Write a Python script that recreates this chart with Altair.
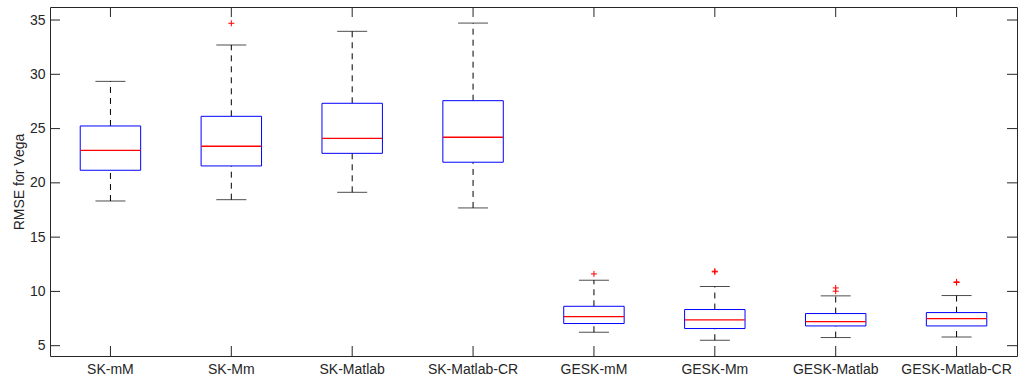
import altair as alt
import pandas as pd

methods = ["SK-mM", "SK-Mm", "SK-Matlab", "SK-Matlab-CR",
           "GESK-mM", "GESK-Mm", "GESK-Matlab", "GESK-Matlab-CR"]
lower_whisker = [18.33, 18.45, 19.13, 17.69, 6.24, 5.50, 5.75, 5.80]
q1 = [21.16, 21.56, 22.72, 21.90, 7.04, 6.58, 6.82, 6.82]
median = [23.00, 23.37, 24.10, 24.20, 7.68, 7.38, 7.22, 7.50]
q3 = [25.24, 26.13, 27.33, 27.57, 8.63, 8.33, 7.96, 8.05]
upper_whisker = [29.35, 32.70, 33.96, 34.72, 11.03, 10.45, 9.59, 9.62]

outlier_method = ["SK-Mm", "GESK-mM", "GESK-Mm", "GESK-Mm",
                  "GESK-Matlab", "GESK-Matlab", "GESK-Matlab-CR", "GESK-Matlab-CR"]
outlier_value = [34.70, 11.61, 11.80, 11.86, 10.32, 10.02, 10.82, 10.88]

y_ticks = [5, 10, 15, 20, 25, 30, 35]

W, H = 967, 349
FONT = "Liberation Sans"
AX = "#262626"

boxes = pd.DataFrame({"method": methods, "lw": lower_whisker, "q1": q1,
                      "med": median, "q3": q3, "uw": upper_whisker})
outl = pd.DataFrame({"method": outlier_method, "value": outlier_value})
yt = pd.DataFrame({"v": y_ticks})
xt = pd.DataFrame({"method": methods})

xscale = alt.Scale(domain=methods, paddingInner=0, paddingOuter=0)
yscale = alt.Scale(domain=[4.05, 36.2], nice=False, zero=False)

x_axis = alt.Axis(title=None, labelAngle=0, ticks=False, domain=False, grid=False,
                  labelFont=FONT, labelFontSize=14, labelColor=AX, labelPadding=6)
y_axis = alt.Axis(title="RMSE for Vega", values=y_ticks, ticks=False,
                  domain=False, grid=False, labelFont=FONT,
                  labelFontSize=14, labelColor=AX, labelPadding=5,
                  titleFont=FONT, titleFontSize=14,
                  titleFontWeight="normal", titleColor=AX, titlePadding=3)


def xe():
    return alt.X("method:N", scale=xscale, sort=methods, axis=x_axis)


def ye(field):
    return alt.Y(field, scale=yscale, axis=y_axis)


dash = [6, 5]
base = alt.Chart(boxes)

box = base.mark_bar(width=alt.RelativeBandSize(0.5), fill="white",
                    stroke="#0000FF", strokeWidth=1).encode(
    x=xe(), y=ye("q1:Q"), y2="q3:Q")

upper = base.mark_rule(color="black", strokeDash=dash, strokeWidth=1).encode(
    x=xe(), y=ye("q3:Q"), y2="uw:Q")
lower = base.mark_rule(color="black", strokeDash=dash, strokeWidth=1).encode(
    x=xe(), y=ye("lw:Q"), y2="q1:Q")

cap_up = base.mark_tick(color="black", size=30, thickness=1).encode(
    x=xe(), y=ye("uw:Q"))
cap_lo = base.mark_tick(color="black", size=30, thickness=1).encode(
    x=xe(), y=ye("lw:Q"))

med = base.mark_tick(color="#FF0000", size=60, thickness=1.3, opacity=1).encode(
    x=xe(), y=ye("med:Q"))

pts = alt.Chart(outl).mark_point(shape="M-1,0L1,0M0,-1L0,1", size=36,
                                 filled=False, color="#FF0000",
                                 strokeWidth=1, opacity=1).encode(
    x=xe(), y=ye("value:Q"))

ytl = alt.Chart(yt).mark_rule(color=AX, strokeWidth=1).encode(
    y=ye("v:Q"), x=alt.value(0), x2=alt.value(10))
ytr = alt.Chart(yt).mark_rule(color=AX, strokeWidth=1).encode(
    y=ye("v:Q"), x=alt.value(W - 10), x2=alt.value(W))
xtb = alt.Chart(xt).mark_rule(color=AX, strokeWidth=1).encode(
    x=xe(), y=alt.value(H - 10), y2=alt.value(H))
xtt = alt.Chart(xt).mark_rule(color=AX, strokeWidth=1).encode(
    x=xe(), y=alt.value(0), y2=alt.value(10))

chart = alt.layer(upper, lower, cap_up, cap_lo, box, med, pts,
                  ytl, ytr, xtb, xtt).properties(
    width=W, height=H,
    autosize=alt.AutoSizeParams(type="none"),
    padding={"left": 50, "top": 7, "right": 1, "bottom": 27},
    background="white",
).configure_view(stroke=AX, strokeWidth=1)

chart.save("out.html", embed_options={"renderer": "svg", "actions": False})
